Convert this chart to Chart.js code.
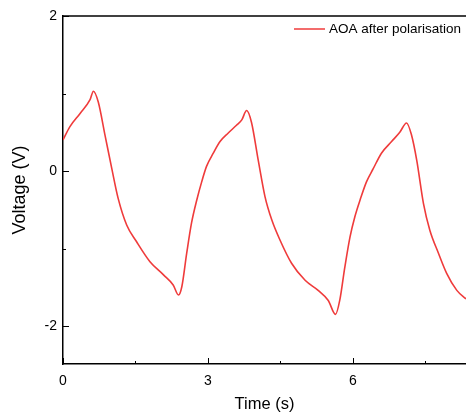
<!DOCTYPE html>
<html>
<head>
<meta charset="utf-8">
<script src="https://cdn.jsdelivr.net/npm/chart.js@4/dist/chart.umd.min.js"></script>
<style>
  html, body { margin: 0; padding: 0; background: #fff; }
  #wrap { width: 466px; height: 414px; }
</style>
</head>
<body>
<div id="wrap"><canvas id="voltageChart" width="466" height="414"></canvas></div>
<script>
// Time (s) and voltage (V)
const timeValues = [0.00, 0.14, 0.35, 0.56, 0.63, 0.73, 0.87, 1.01, 1.14, 1.32, 1.52, 1.80, 2.08, 2.28, 2.39,
    2.46, 2.56, 2.66, 2.77, 2.87, 2.97, 3.11, 3.25, 3.42, 3.59, 3.70, 3.80, 3.90, 4.04, 4.18, 4.32, 4.49, 4.73,
    5.01, 5.28, 5.49, 5.64, 5.73, 5.83, 5.94, 6.04, 6.15, 6.28, 6.42, 6.59, 6.80, 6.97, 7.11, 7.21, 7.32, 7.46,
    7.59, 7.77, 7.94, 8.15, 8.34];
const voltageValues = [0.40, 0.57, 0.74, 0.92, 1.03, 0.89, 0.46, 0.03, -0.35, -0.70, -0.91, -1.17, -1.34, -1.47, -1.60,
    -1.49, -1.06, -0.67, -0.37, -0.14, 0.06, 0.23, 0.38, 0.49, 0.59, 0.66, 0.78, 0.63, 0.14, -0.33, -0.63, -0.89, -1.19,
    -1.41, -1.54, -1.67, -1.85, -1.66, -1.25, -0.85, -0.59, -0.37, -0.14, 0.03, 0.23, 0.38, 0.50, 0.62, 0.47, 0.14, -0.42,
    -0.76, -1.06, -1.32, -1.54, -1.65];
const xTicks = [0, 1.5, 3, 4.5, 6, 7.5];
const xLabelled = [0, 3, 6];
const yTicks = [-2, -1, 0, 1, 2];
const yLabelled = [-2, 0, 2];
const seriesLabel = 'AOA after polarisation';

const points = timeValues.map((t, i) => ({ x: t, y: voltageValues[i] }));

// inward tick marks, the top frame line and the legend
const frameTicks = {
    id: 'frameTicks',
    afterDraw(chart) {
        const { ctx, chartArea, scales } = chart;
        ctx.save();
        ctx.strokeStyle = '#000';
        ctx.lineWidth = 1.5;
        ctx.beginPath();
        ctx.moveTo(chartArea.left, chartArea.top);
        ctx.lineTo(chartArea.right, chartArea.top);
        ctx.stroke();
        ctx.lineWidth = 1;
        xTicks.forEach(v => {
            const px = Math.round(scales.x.getPixelForValue(v)) + 0.5;
            const len = xLabelled.includes(v) ? 6 : 3;
            ctx.beginPath();
            ctx.moveTo(px, chartArea.bottom);
            ctx.lineTo(px, chartArea.bottom - len);
            ctx.stroke();
        });
        yTicks.forEach(v => {
            const py = Math.round(scales.y.getPixelForValue(v)) + 0.5;
            const len = yLabelled.includes(v) ? 6 : 3;
            ctx.beginPath();
            ctx.moveTo(chartArea.left, py);
            ctx.lineTo(chartArea.left + len, py);
            ctx.stroke();
        });

        // legend, top right inside the frame
        const ds = chart.data.datasets[0];
        const ly = chartArea.top + 13;
        const lx = chartArea.right - 172;
        ctx.strokeStyle = ds.borderColor;
        ctx.lineWidth = 1.5;
        ctx.beginPath();
        ctx.moveTo(lx, ly);
        ctx.lineTo(lx + 31, ly);
        ctx.stroke();
        ctx.fillStyle = '#000';
        ctx.font = '13.5px "Liberation Sans", Arial, sans-serif';
        ctx.textBaseline = 'middle';
        ctx.textAlign = 'left';
        ctx.fillText(ds.label, lx + 35, ly);
        ctx.restore();
    }
};

Chart.defaults.font.family = '"Liberation Sans", Arial, sans-serif';
Chart.defaults.color = '#000';

new Chart(document.getElementById('voltageChart').getContext('2d'), {
    type: 'line',
    data: {
        datasets: [{
            label: seriesLabel,
            data: points,
            borderColor: '#ef3b3b',
            backgroundColor: '#ef3b3b',
            borderWidth: 1.6,
            pointRadius: 0,
            cubicInterpolationMode: 'monotone',
            fill: false
        }]
    },
    options: {
        responsive: false,
        animation: false,
        layout: { padding: { top: 16, right: 0, left: 0, bottom: 0 } },
        plugins: {
            tooltip: { enabled: false },
            legend: { display: false }
        },
        scales: {
            x: {
                type: 'linear',
                min: 0,
                max: 8.34,
                afterFit: scale => { scale.height = 50; },
                afterBuildTicks: scale => { scale.ticks = xTicks.map(v => ({ value: v })); },
                ticks: {
                    padding: 9,
                    maxRotation: 0,
                    font: { size: 14 },
                    callback: v => xLabelled.includes(v) ? String(v) : ''
                },
                grid: { drawOnChartArea: false, drawTicks: false },
                border: { color: '#000', width: 1.5 },
                title: { display: true, text: 'Time (s)', font: { size: 16.5 }, padding: 0 }
            },
            y: {
                min: -2.49,
                max: 2,
                afterFit: scale => { scale.width = 63; },
                afterBuildTicks: scale => { scale.ticks = yTicks.map(v => ({ value: v })); },
                ticks: {
                    padding: 6,
                    font: { size: 14 },
                    callback: v => yLabelled.includes(v) ? String(v) : ''
                },
                grid: { drawOnChartArea: false, drawTicks: false },
                border: { color: '#000', width: 1.5 },
                title: { display: true, text: 'Voltage (V)', font: { size: 18 }, padding: { top: 9, bottom: 0 } }
            }
        }
    },
    plugins: [frameTicks]
});
</script>
</body>
</html>
